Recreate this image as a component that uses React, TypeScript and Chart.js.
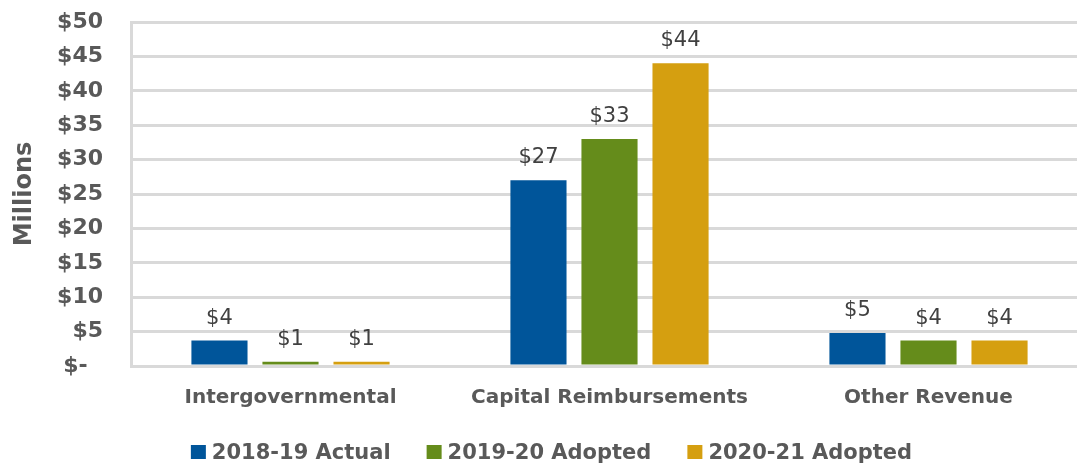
import React, { useEffect, useRef } from "react";
import { Chart, registerables } from "chart.js";

Chart.register(...registerables);

const categories = ["Intergovernmental", "Capital Reimbursements", "Other Revenue"];
const seriesNames = ["2018-19 Actual", "2019-20 Adopted", "2020-21 Adopted"];
const actual1819 = [3.7, 27, 4.8];
const adopted1920 = [0.6, 33, 3.7];
const adopted2021 = [0.6, 44, 3.7];
const seriesColors = ["#00559A", "#658C1B", "#D59F10"];
const yTicks = [0, 5, 10, 15, 20, 25, 30, 35, 40, 45, 50];

const fmtTick = (v: number) => (v === 0 ? "$-  " : "$" + v);
const fmtLabel = (v: number) => "$" + Math.round(v);

const dataLabelPlugin = {
  id: "dataLabels",
  afterDatasetsDraw(chart: any) {
    const ctx = chart.ctx;
    ctx.save();
    ctx.font = "21px 'DejaVu Sans'";
    ctx.fillStyle = "#404040";
    ctx.textAlign = "center";
    ctx.textBaseline = "alphabetic";
    chart.data.datasets.forEach((ds: any, i: number) => {
      const meta = chart.getDatasetMeta(i);
      meta.data.forEach((bar: any, j: number) => {
        ctx.fillText(fmtLabel(ds.data[j]), bar.x, bar.y - 17);
      });
    });
    ctx.restore();
  },
};

const customLegend = {
  id: "customLegend",
  afterDraw(chart: any) {
    const ctx = chart.ctx;
    ctx.save();
    ctx.font = "bold 21px 'DejaVu Sans'";
    ctx.textBaseline = "alphabetic";
    const box = 15;
    const gap = 6;
    const itemGap = 36;
    const items = chart.data.datasets.map((ds: any) => ({
      text: ds.label,
      color: ds.backgroundColor,
      w: ctx.measureText(ds.label).width,
    }));
    const total =
      items.reduce((s: number, it: any) => s + box + gap + it.w, 0) + itemGap * (items.length - 1);
    let x = 551.5 - total / 2;
    const baseline = 459;
    items.forEach((it: any) => {
      ctx.fillStyle = it.color;
      ctx.fillRect(x, 445, box, box - 1);
      ctx.fillStyle = "#595959";
      ctx.textAlign = "left";
      ctx.fillText(it.text, x + box + gap, baseline);
      x += box + gap + it.w + itemGap;
    });
    ctx.restore();
  },
};

export default function App() {
  const ref = useRef<HTMLCanvasElement>(null);
  useEffect(() => {
    const chart = new Chart(ref.current as HTMLCanvasElement, {
      type: "bar",
      data: {
        labels: categories,
        datasets: [actual1819, adopted1920, adopted2021].map((d, i) => ({
          label: seriesNames[i],
          data: d,
          backgroundColor: seriesColors[i],
          categoryPercentage: 0.668,
          barPercentage: 0.79,
        })),
      },
      options: {
        responsive: false,
        animation: false,
        layout: { padding: { top: 22, right: 0, left: 0, bottom: 44 } },
        plugins: {
          tooltip: { enabled: false },
          legend: { display: false },
        },
        scales: {
          x: {
            afterFit: (scale: any) => {
              scale.height = 54;
            },
            grid: { display: false },
            border: { display: false },
            ticks: {
              color: "#595959",
              padding: 12,
              font: { family: "'DejaVu Sans'", size: 20, weight: "bold" },
            },
          },
          y: {
            min: 0,
            max: 50,
            afterFit: (scale: any) => {
              scale.width = 131;
              scale.paddingTop = 0;
              scale.paddingBottom = 0;
            },
            afterBuildTicks: (scale: any) => {
              scale.ticks = yTicks.map((v) => ({ value: v }));
            },
            grid: { color: "#D9D9D9", lineWidth: 3, drawTicks: false },
            border: { display: true, color: "#D9D9D9", width: 3 },
            ticks: {
              autoSkip: false,
              stepSize: 5,
              color: "#595959",
              padding: 28,
              font: { family: "'DejaVu Sans'", size: 22, weight: "bold" },
              callback: (v: any) => fmtTick(Number(v)),
            },
            title: {
              display: true,
              text: "Millions",
              color: "#595959",
              padding: { top: 10, bottom: 0 },
              font: { family: "'DejaVu Sans'", size: 24, weight: "bold" },
            },
          },
        },
      },
      plugins: [dataLabelPlugin, customLegend],
    } as any);
    return () => chart.destroy();
  }, []);
  return (
    <div style={{ position: "fixed", left: 0, top: 0, width: 1077, height: 464, overflow: "hidden", background: "#fff" }}>
      <canvas ref={ref} width={1088} height={464} style={{ display: "block" }} />
    </div>
  );
}
